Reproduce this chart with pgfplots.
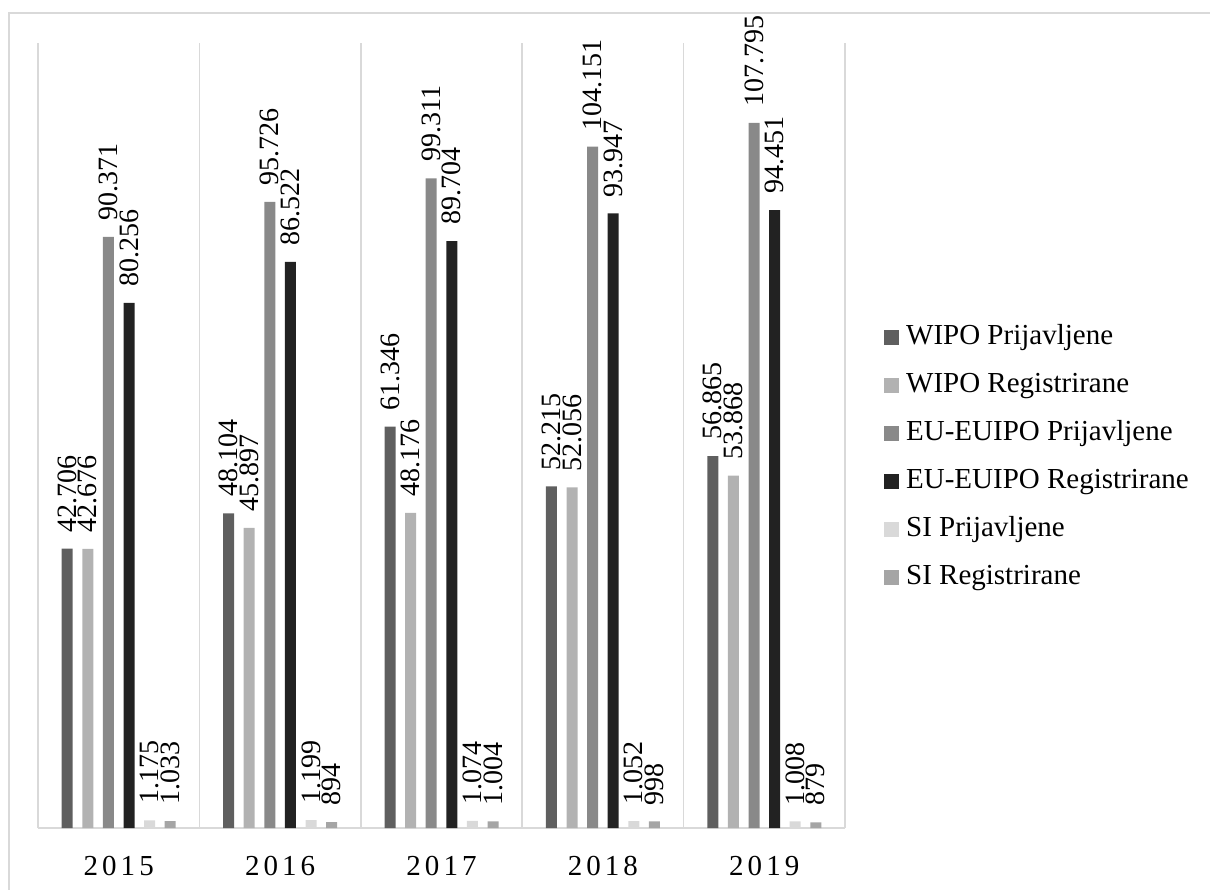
\documentclass[border=0pt]{standalone}
\usepackage{pgfplots}
\pgfplotsset{compat=1.18}
\usepackage{fontspec}
\setmainfont{Liberation Serif}
\newfontfamily\yearfamily[LetterSpace=14]{Liberation Serif}
\newcommand\lblfont{\fontsize{14.5}{16}\selectfont}
\newcommand\valfont{\fontsize{14}{16}\selectfont}
\newcommand\yearfont{\yearfamily\fontsize{14.5}{16}\selectfont}
\definecolor{cA}{HTML}{5F5F5F}
\definecolor{cB}{HTML}{B2B2B2}
\definecolor{cC}{HTML}{898989}
\definecolor{cD}{HTML}{222222}
\definecolor{cE}{HTML}{D9D9D9}
\definecolor{cF}{HTML}{A5A5A5}
\definecolor{gridc}{HTML}{D9D9D9}
\begin{document}
\begin{tikzpicture}
\draw[gridc, line width=0.75pt] (4.5pt,438pt) rectangle (640pt,-30pt);
\begin{axis}[
  at={(19pt,30.5pt)}, anchor=south west,
  scale only axis, width=403.5pt, height=392.5pt,
  ybar=4.8pt, bar width=5.5pt,
  xmin=-0.5, xmax=4.5, ymin=0, ymax=120000,
  axis x line*=bottom, axis y line=none,
  x axis line style={draw=gridc, line width=0.75pt},
  xtick={0,1,2,3,4},
  xticklabels={2015,2016,2017,2018,2019},
  major tick length=0pt, minor tick length=0pt,
  minor xtick={-0.5,0.5,1.5,2.5,3.5,4.5},
  xminorgrids=true,
  minor grid style={draw=gridc, line width=0.75pt},
  xticklabel style={anchor=base, yshift=-23.5pt, font=\yearfont},
  nodes near coords, point meta=explicit symbolic,
  every node near coord/.append style={rotate=90, anchor=west, inner xsep=8pt, inner ysep=0pt, font=\valfont, text=black},
  clip=false,
  legend cell align=left,
  legend style={draw=none, fill=none, inner sep=0pt, at={(1.048,0.4726)}, anchor=west,
    row sep=7pt, column sep=3.5pt, font=\lblfont,
    nodes={inner xsep=0pt, inner ysep=2pt, text height=10pt, text depth=3pt}},
  legend image code/.code={\fill[#1] (0pt,-3.75pt) rectangle (7.5pt,3.75pt);},
]
\addplot[fill=cA, draw=none] coordinates {(0,42706)[42.706] (1,48104)[48.104] (2,61346)[61.346] (3,52215)[52.215] (4,56865)[56.865]};
\addlegendentry{WIPO Prijavljene}
\addplot[fill=cB, draw=none] coordinates {(0,42676)[42.676] (1,45897)[45.897] (2,48176)[48.176] (3,52056)[52.056] (4,53868)[53.868]};
\addlegendentry{WIPO Registrirane}
\addplot[fill=cC, draw=none] coordinates {(0,90371)[90.371] (1,95726)[95.726] (2,99311)[99.311] (3,104151)[104.151] (4,107795)[107.795]};
\addlegendentry{EU-EUIPO Prijavljene}
\addplot[fill=cD, draw=none] coordinates {(0,80256)[80.256] (1,86522)[86.522] (2,89704)[89.704] (3,93947)[93.947] (4,94451)[94.451]};
\addlegendentry{EU-EUIPO Registrirane}
\addplot[fill=cE, draw=none] coordinates {(0,1175)[1.175] (1,1199)[1.199] (2,1074)[1.074] (3,1052)[1.052] (4,1008)[1.008]};
\addlegendentry{SI Prijavljene}
\addplot[fill=cF, draw=none] coordinates {(0,1033)[1.033] (1,894)[894] (2,1004)[1.004] (3,998)[998] (4,879)[879]};
\addlegendentry{SI Registrirane}
\end{axis}
\pgfresetboundingbox
\path[use as bounding box] (0pt,0pt) rectangle (605pt,444.5pt);
\end{tikzpicture}
\end{document}
